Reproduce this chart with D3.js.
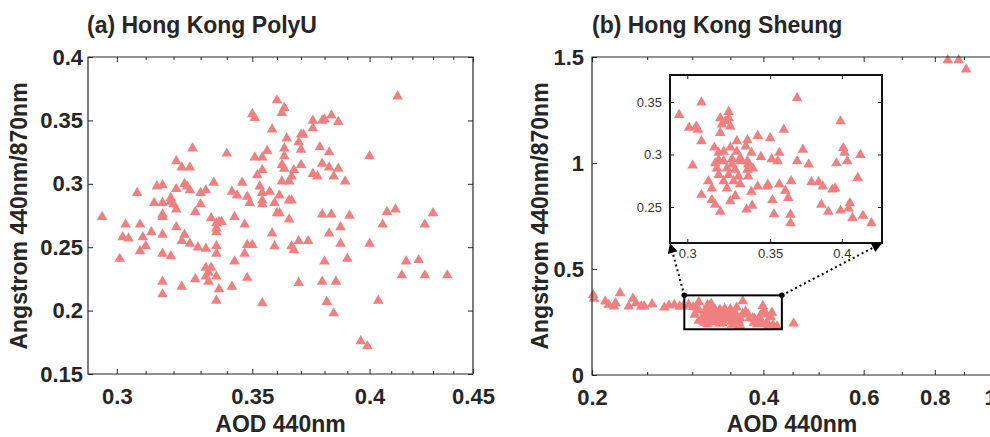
<!DOCTYPE html>
<html><head><meta charset="utf-8">
<script src="https://cdn.jsdelivr.net/npm/d3@7"></script>
<style>
body{margin:0;background:#fff}
svg{display:block}
text{font-family:"Liberation Sans",Arial,Helvetica,sans-serif}
</style></head>
<body><svg id="c" width="990" height="437"></svg>
<script>
// ---------- DATA ----------
const aAOD = [0.413,0.360,0.363,0.362,0.350,0.351,0.358,0.379,0.380,0.383,0.386,0.375,0.375,0.364,0.370,0.371,0.369,0.327,0.340,0.356,0.363,0.370,0.378,0.382,0.400,0.351,0.354,0.363,0.321,0.323,0.326,0.362,0.363,0.354,0.352,0.370,0.367,0.375,0.377,0.379,0.382,0.386,0.384,0.389,0.366,0.365,0.362,0.314,0.316,0.321,0.324,0.325,0.326,0.335,0.307,0.330,0.332,0.342,0.346,0.344,0.353,0.354,0.357,0.361,0.365,0.366,0.359,0.354,0.354,0.313,0.316,0.319,0.319,0.320,0.321,0.330,0.328,0.348,0.349,0.316,0.316,0.295,0.312,0.308,0.303,0.321,0.324,0.334,0.336,0.336,0.337,0.338,0.336,0.343,0.347,0.358,0.360,0.361,0.365,0.383,0.382,0.387,0.391,0.408,0.412,0.406,0.400,0.430,0.426,0.417,0.423,0.415,0.426,0.437,0.404,0.396,0.399,0.387,0.390,0.379,0.369,0.366,0.367,0.373,0.369,0.379,0.380,0.381,0.384,0.385,0.354,0.348,0.350,0.347,0.348,0.342,0.343,0.359,0.332,0.336,0.336,0.332,0.334,0.333,0.332,0.336,0.333,0.337,0.336,0.328,0.323,0.323,0.326,0.329,0.319,0.316,0.316,0.316,0.310,0.308,0.302,0.304,0.301,0.309,0.316];
const aAE  = [0.370,0.367,0.361,0.357,0.356,0.353,0.344,0.351,0.352,0.355,0.350,0.351,0.345,0.337,0.340,0.340,0.334,0.329,0.325,0.327,0.329,0.328,0.330,0.326,0.323,0.322,0.322,0.323,0.319,0.314,0.314,0.316,0.313,0.312,0.308,0.316,0.312,0.309,0.307,0.317,0.314,0.313,0.307,0.303,0.307,0.303,0.303,0.299,0.300,0.297,0.301,0.299,0.296,0.302,0.294,0.294,0.296,0.295,0.302,0.292,0.299,0.294,0.295,0.292,0.288,0.288,0.286,0.288,0.285,0.286,0.286,0.290,0.287,0.285,0.281,0.285,0.279,0.291,0.286,0.277,0.275,0.275,0.263,0.269,0.269,0.267,0.261,0.274,0.270,0.266,0.271,0.271,0.263,0.275,0.269,0.262,0.278,0.278,0.273,0.277,0.262,0.267,0.276,0.279,0.281,0.269,0.254,0.278,0.269,0.240,0.241,0.229,0.229,0.229,0.209,0.177,0.173,0.254,0.242,0.277,0.256,0.252,0.249,0.256,0.223,0.224,0.240,0.208,0.199,0.224,0.207,0.253,0.253,0.246,0.227,0.220,0.240,0.252,0.250,0.252,0.246,0.235,0.235,0.231,0.228,0.228,0.224,0.218,0.209,0.226,0.220,0.256,0.254,0.251,0.244,0.246,0.224,0.214,0.252,0.248,0.259,0.258,0.242,0.259,0.261];

const bAOD = [0.201,0.2016,0.211,0.214,0.220,0.2186,0.224,0.232,0.236,0.239,0.244,0.247,0.255,0.268,0.273,0.279,0.285,0.289,
  0.308,0.2955,0.301,0.305,0.306,0.308,0.303,0.319,0.324,0.324,0.320,0.325,0.319,0.322,0.3155,0.3355,0.342,0.350,0.3345,0.318,0.325,0.329,0.338,0.344,0.351,0.318,0.321,0.326,0.331,0.336,0.339,0.317,0.323,0.328,0.3355,0.318,0.324,0.330,0.336,0.312,0.321,0.327,0.314,0.331,0.342,0.348,0.308,0.314,0.325,0.328,0.338,0.316,0.319,0.335,0.3385,0.3525,0.3515,0.326,0.321,0.331,0.329,0.316,0.323,0.3355,
  0.368,0.359,0.399,0.356,0.355,0.372,0.368,0.376,0.401,0.402,0.396,0.404,0.414,0.412,0.356,0.364,0.360,0.362,0.378,0.383,0.386,0.393,0.395,0.385,0.390,0.399,0.406,0.405,0.408,0.416,0.4226,0.3635,0.3635,0.3485,
  0.452,0.843,0.881,0.908];
const bAE = [0.385,0.367,0.354,0.338,0.346,0.330,0.393,0.330,0.367,0.346,0.330,0.330,0.341,0.325,0.335,0.338,0.330,0.330,
  0.351,0.339,0.327,0.328,0.325,0.314,0.291,0.336,0.342,0.336,0.330,0.328,0.322,0.333,0.308,0.315,0.319,0.317,0.309,0.303,0.308,0.304,0.303,0.299,0.297,0.296,0.295,0.297,0.295,0.292,0.288,0.288,0.288,0.287,0.287,0.282,0.282,0.2805,0.2805,0.276,0.276,0.276,0.269,0.273,0.271,0.271,0.263,0.258,0.257,0.262,0.266,0.2535,0.247,0.249,0.2526,0.2446,0.258,0.292,0.304,0.298,0.314,0.293,0.269,0.295,
  0.355,0.325,0.333,0.303,0.295,0.306,0.295,0.292,0.3075,0.303,0.293,0.295,0.301,0.279,0.273,0.276,0.267,0.260,0.275,0.275,0.271,0.268,0.269,0.2535,0.247,0.248,0.255,0.250,0.241,0.243,0.236,0.244,0.236,0.2726,
  0.250,1.492,1.492,1.448];

const titles = ["(a) Hong Kong PolyU", "(b) Hong Kong Sheung"];
const xLabel = "AOD 440nm";
const yLabel = "Angstrom 440nm/870nm";

const aXDomain = [0.2903, 0.45], aYDomain = [0.15, 0.4];
const aXTicks = [0.3, 0.35, 0.4, 0.45];
const aXMinor = [0.31,0.32,0.33,0.34,0.36,0.37,0.38,0.39,0.41,0.42,0.43,0.44];
const aYTicks = [0.15, 0.2, 0.25, 0.3, 0.35, 0.4];

const bXDomain = [0.2, 1], bYDomain = [0, 1.5];
const bXTicks = [0.2, 0.4, 0.6, 0.8, 1];
const bXMinor = [0.25, 0.3, 0.35, 0.45, 0.5, 0.7, 0.9];
const bYTicks = [0, 0.5, 1, 1.5];

const inXDomain = [0.2905, 0.431], inYDomain = [0.2157, 0.3757];
const inXTicks = [0.3, 0.35, 0.4];
const inYTicks = [0.25, 0.3, 0.35];

// ---------- DRAW ----------
const svg = d3.select("#c");
const AX = "#262626", MK = "#F08080";
const tri = "M0,-4.7L5.3,4.5L-5.3,4.5Z";
const fmt = d => String(d);

function panel(o){
  const g = svg.append("g");
  const x = o.x, y = o.y;
  const [x0,x1] = x.range(), [y1,y0] = y.range();
  g.append("g").selectAll("path").data(o.pts).join("path")
    .attr("d", tri).attr("fill", MK)
    .attr("transform", d => `translate(${x(d[0])},${y(d[1])})`);
  const styleAx = (sel, size, weight, color) => {
    sel.select(".domain").remove();
    sel.selectAll("line").attr("stroke", AX).attr("stroke-width", 1);
    sel.selectAll("text").attr("fill", color).attr("font-size", size).attr("font-weight", weight).attr("font-family", '"Liberation Sans",Arial,sans-serif');
  };
  const mk = (axis, tr, vals, len, labels, pad) => {
    const a = axis.tickValues(vals).tickSizeInner(-len).tickSizeOuter(0).tickPadding(pad||0)
      .tickFormat(labels ? fmt : () => "");
    const s = g.append("g").attr("transform", tr).call(a);
    styleAx(s, o.fs, o.fw, o.tc);
    return s;
  };
  mk(d3.axisBottom(x), `translate(0,${y1})`, o.xt, o.tl, true, o.xpad);
  mk(d3.axisTop(x), `translate(0,${y0})`, o.xt, o.tl, false);
  if (o.xm){ mk(d3.axisBottom(x), `translate(0,${y1})`, o.xm, o.tl*0.6, false); mk(d3.axisTop(x), `translate(0,${y0})`, o.xm, o.tl*0.6, false); }
  mk(d3.axisLeft(y), `translate(${x0},0)`, o.yt, o.tl, true, o.ypad);
  if (o.right) mk(d3.axisRight(y), `translate(${x1},0)`, o.yt, o.tl, false);
  const xr = o.right ? x1 : x1 + 3;
  g.append("path").attr("d", `M${xr},${y1}L${x0},${y1}L${x0},${y0}L${xr},${y0}` + (o.right ? "Z" : ""))
    .attr("fill", "none").attr("stroke", o.bc || AX).attr("stroke-width", o.bw || 1.2);
  return g;
}

// Panel (a)
const xa = d3.scaleLog().domain(aXDomain).range([88, 473]);
const ya = d3.scaleLinear().domain(aYDomain).range([374, 57]);
panel({x: xa, y: ya, pts: aAOD.map((v,i)=>[v,aAE[i]]), xt: aXTicks, xm: aXMinor, yt: aYTicks,
  tl: 5, fs: 22, fw: "bold", tc: AX, xpad: 14, ypad: 5, right: true});

// Panel (b)
const xb = d3.scaleLog().domain(bXDomain).range([592, 990]);
const yb = d3.scaleLinear().domain(bYDomain).range([375, 57]);
const bPts = bAOD.map((v,i)=>[v,bAE[i]]);
panel({x: xb, y: yb, pts: bPts, xt: bXTicks, xm: bXMinor, yt: bYTicks,
  tl: 5, fs: 22, fw: "bold", tc: AX, xpad: 14, ypad: 8, right: false});

// zoom rectangle in (b)
const rx0 = xb(inXDomain[0]), rx1 = xb(inXDomain[1]), ry0 = yb(inYDomain[1]), ry1 = yb(inYDomain[0]);
svg.append("rect").attr("x", rx0).attr("y", ry0).attr("width", rx1-rx0).attr("height", ry1-ry0)
  .attr("fill", "none").attr("stroke", "#000").attr("stroke-width", 2);

// inset
const xi = d3.scaleLog().domain(inXDomain).range([670, 882]);
const yi = d3.scaleLinear().domain(inYDomain).range([243, 75]);
svg.append("rect").attr("x", 670).attr("y", 75).attr("width", 212).attr("height", 168).attr("fill", "#fff");
const inPts = bPts.filter(d => d[0] >= inXDomain[0] && d[0] <= inXDomain[1] && d[1] >= inYDomain[0] && d[1] <= inYDomain[1]);
panel({x: xi, y: yi, pts: inPts, xt: inXTicks, yt: inYTicks, tl: 4, fs: 13, fw: "normal", tc: "#333",
  xpad: 6, ypad: 8, right: true, bc: "#111", bw: 2});

// connectors
function connector(from, to){
  svg.append("line").attr("x1", from[0]).attr("y1", from[1]).attr("x2", to[0]).attr("y2", to[1])
    .attr("stroke", "#000").attr("stroke-width", 2).attr("stroke-dasharray", "2,3");
  svg.append("circle").attr("cx", from[0]).attr("cy", from[1]).attr("r", 2.8).attr("fill", "#000");
  const ang = Math.atan2(to[1]-from[1], to[0]-from[0]) * 180 / Math.PI;
  svg.append("path").attr("d", "M0,0L-10,-5L-10,5Z").attr("fill", "#000")
    .attr("transform", `translate(${to[0]},${to[1]}) rotate(${ang})`);
}
connector([rx0, ry0], [xi.range()[0], yi.range()[0]]);
connector([rx1, ry0], [xi.range()[1], yi.range()[0]]);

// titles & labels
const lab = (t, x, y, size, rot, anchor) => svg.append("text").text(t)
  .attr("transform", `translate(${x},${y})` + (rot ? " rotate(-90)" : ""))
  .attr("text-anchor", anchor || "middle").attr("font-size", size).attr("font-weight", "bold").attr("fill", AX);
lab(titles[0], 87, 33, 23, false, "start");
lab(titles[1], 592, 33, 23, false, "start");
lab(xLabel, (88+473)/2, 432, 23);
lab(xLabel, 792, 432, 23);
lab(yLabel, 27, 216, 23, true);
lab(yLabel, 548, 216, 23, true);
</script></body></html>
